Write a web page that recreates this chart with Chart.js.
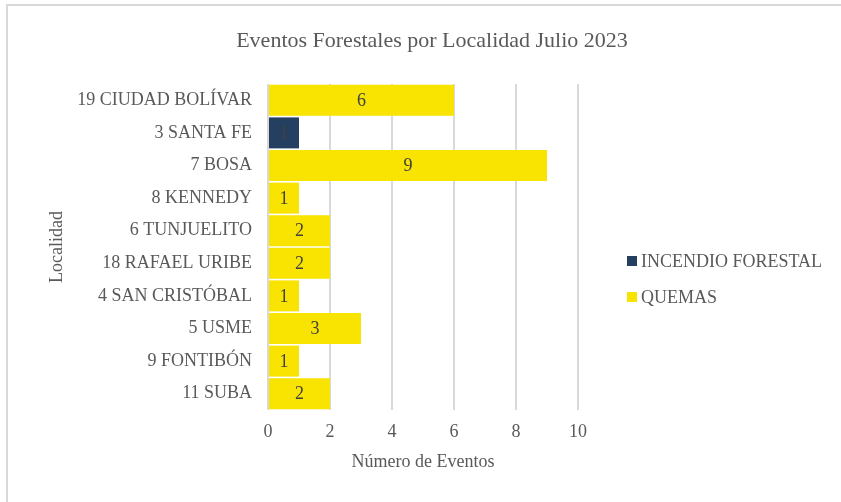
<!DOCTYPE html>
<html>
<head>
<meta charset="utf-8">
<script src="https://cdn.jsdelivr.net/npm/chart.js@4"></script>
<style>
  html, body { margin: 0; padding: 0; background: #fff; }
  #wrap { position: relative; width: 841px; height: 502px; overflow: hidden; font-family: 'Liberation Serif', 'Times New Roman', serif; }
  #frame { position: absolute; left: 6px; top: 4px; width: 900px; height: 600px; border-left: 2px solid #d9d9d9; border-top: 2px solid #d9d9d9; }
  #title { position: absolute; left: 0; width: 864px; top: 27px; text-align: center; font-size: 22px; line-height: 26px; color: #595959; }
  .legend { position: absolute; left: 627px; font-size: 18px; color: #595959; line-height: 20px; }
  .legend span { display: inline-block; width: 10px; height: 10px; margin-right: 4px; vertical-align: 1px; }
  canvas { position: absolute; left: 0; top: 0; }
</style>
</head>
<body>
<div id="wrap">
  <div id="frame"></div>
  <canvas id="chart" width="841" height="502"></canvas>
  <div id="title">Eventos Forestales por Localidad Julio 2023</div>
  <div class="legend" style="top:251px"><span style="background:#243f60"></span>INCENDIO FORESTAL</div>
  <div class="legend" style="top:287px"><span style="background:#f9e300"></span>QUEMAS</div>
</div>
<script>
const localidades = ['19 CIUDAD BOLÍVAR', '3 SANTA FE', '7 BOSA', '8 KENNEDY', '6 TUNJUELITO',
  '18 RAFAEL URIBE', '4 SAN CRISTÓBAL', '5 USME', '9 FONTIBÓN', '11 SUBA'];
const incendioForestal = [null, 1, null, null, null, null, null, null, null, null];
const quemas = [6, null, 9, 1, 2, 2, 1, 3, 1, 2];

const FONT = "'Liberation Serif', 'Times New Roman', serif";
const TEXT = '#595959';

// values drawn in the middle of each bar
const barLabels = {
    id: 'barLabels',
    afterDatasetsDraw(chart) {
        const ctx = chart.ctx;
        ctx.save();
        ctx.font = '18px ' + FONT;
        ctx.fillStyle = '#404040';
        ctx.textAlign = 'center';
        ctx.textBaseline = 'middle';
        chart.data.datasets.forEach((ds, i) => {
            chart.getDatasetMeta(i).data.forEach((bar, j) => {
                const v = ds.data[j];
                if (v == null) return;
                ctx.fillText(String(v), (bar.x + bar.base) / 2, bar.y + 1);
            });
        });
        ctx.restore();
    }
};

new Chart(document.getElementById('chart').getContext('2d'), {
    type: 'bar',
    data: {
        labels: localidades,
        datasets: [
            { label: 'INCENDIO FORESTAL', data: incendioForestal, backgroundColor: '#243f60' },
            { label: 'QUEMAS', data: quemas, backgroundColor: '#f9e300' }
        ]
    },
    options: {
        indexAxis: 'y',
        responsive: false,
        animation: false,
        devicePixelRatio: 1,
        barPercentage: 0.95,
        categoryPercentage: 1,
        layout: { padding: { top: 84, left: 0, right: 263, bottom: 22 } },
        plugins: {
            legend: { display: false },
            title: { display: false },
            tooltip: { enabled: false }
        },
        scales: {
            x: {
                stacked: true,
                min: 0,
                max: 10,
                ticks: { stepSize: 2, color: TEXT, font: { family: FONT, size: 18 }, padding: 11 },
                grid: { color: '#d9d9d9', lineWidth: 2, drawTicks: false },
                border: { display: false },
                title: { display: true, text: 'Número de Eventos', color: TEXT, font: { family: FONT, size: 18 }, padding: { top: 4, bottom: 7 } },
                afterFit: (scale) => { scale.height = 70; }
            },
            y: {
                stacked: true,
                ticks: { color: TEXT, font: { family: FONT, size: 18 }, padding: 16, autoSkip: false },
                grid: { display: false, drawTicks: false },
                border: { display: false },
                title: { display: true, text: 'Localidad', color: TEXT, font: { family: FONT, size: 18 }, padding: { top: 46, bottom: 4 } },
                afterFit: (scale) => { scale.width = 268; }
            }
        }
    },
    plugins: [barLabels]
});
</script>
</body>
</html>
